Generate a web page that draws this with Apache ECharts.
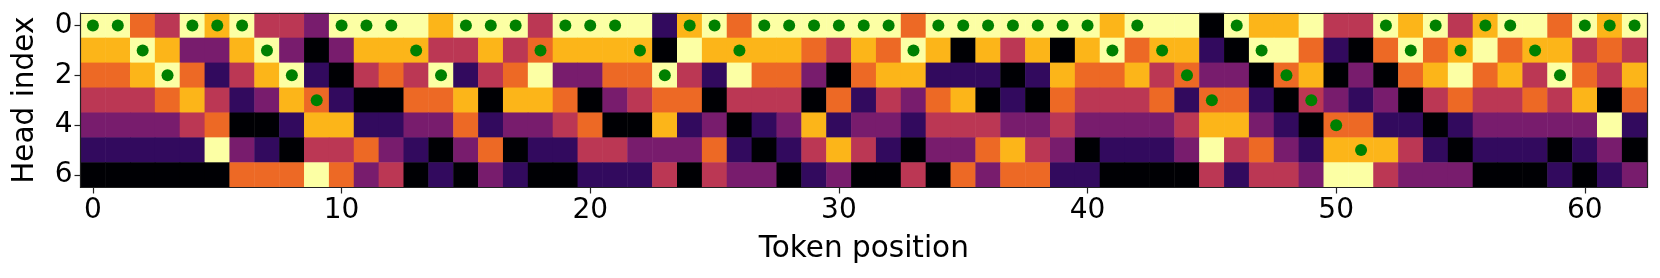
<!DOCTYPE html>
<html>
<head>
<meta charset="utf-8">
<style>html,body{margin:0;padding:0;background:#fff}#c{width:1660px;height:278px}</style>
<script src="https://cdn.jsdelivr.net/npm/echarts@6/dist/echarts.min.js"></script>
</head>
<body>
<div id="c"></div>
<script>
const head0 = [6,6,4,3,6,5,6,3,3,2,6,6,6,6,5,6,6,6,3,6,6,6,6,1,5,6,4,6,6,6,6,6,6,4,6,6,6,6,6,6,6,5,6,6,6,0,6,5,5,6,3,3,6,5,6,3,5,6,6,4,6,5,6];
const head1 = [5,5,6,5,2,2,5,6,2,0,2,5,5,5,3,3,5,3,4,5,5,5,5,0,6,5,5,5,5,4,3,5,4,6,5,0,5,3,5,0,5,6,4,5,5,1,0,6,6,4,1,0,4,6,4,5,6,4,5,5,3,4,3];
const head2 = [4,4,5,6,4,1,3,5,6,1,0,3,4,3,6,1,3,4,6,2,2,4,4,6,3,1,6,4,4,2,0,4,5,5,1,1,1,0,1,5,4,4,5,3,4,2,2,0,4,5,0,2,0,4,5,6,4,5,3,6,4,3,5];
const head3 = [3,3,3,4,5,3,1,2,5,4,1,0,0,4,4,5,0,5,5,4,0,2,3,4,4,0,3,3,3,0,4,1,3,2,4,5,0,1,0,4,3,3,3,4,1,4,4,1,0,3,2,1,2,0,3,4,3,3,4,3,5,0,4];
const head4 = [2,2,2,2,3,4,0,0,1,5,5,1,1,2,2,4,1,2,2,3,4,0,0,5,1,2,0,1,2,5,1,2,2,1,3,3,3,2,2,3,2,2,2,2,3,5,5,2,1,0,4,4,1,1,0,1,2,2,2,2,2,6,1];
const head5 = [1,1,1,1,1,6,2,1,0,3,3,4,2,1,0,2,4,0,1,1,3,3,2,2,2,4,1,0,1,3,5,3,1,0,2,2,4,5,3,2,0,1,1,1,2,6,3,4,2,1,5,5,5,3,1,0,1,1,1,0,1,2,0];
const head6 = [0,0,0,0,0,0,4,4,4,6,4,2,3,0,1,0,2,1,0,0,1,1,1,3,0,3,2,2,0,1,2,0,0,3,0,4,2,4,4,1,1,0,0,0,0,3,1,3,3,2,6,6,3,2,2,2,0,0,0,1,0,1,2];
const selectedHead = [0,0,1,2,0,0,0,1,2,3,0,0,0,1,2,0,0,0,1,0,0,0,1,2,0,0,1,0,0,0,0,0,0,1,0,0,0,0,0,0,0,1,0,1,2,3,0,1,2,3,4,5,0,1,0,1,0,0,1,2,0,0,0];
const tokenPositions = head0.map((_, i) => String(i));
const headIndices = ['0','1','2','3','4','5','6'];
const infernoSteps = ['#000004','#320a5e','#781c6d','#bb3754','#ed6925','#fcb519','#fcffa4'];

const heads = [head0, head1, head2, head3, head4, head5, head6];
const cells = [];
heads.forEach((row, r) => row.forEach((v, c) => cells.push([c, r, v])));
const dots = selectedHead.map((r, c) => [c, r]);

const fontFamily = '"DejaVu Sans"';
const chart = echarts.init(document.getElementById('c'), null, {renderer: 'canvas'});
const frame = {show: true, onZero: false, lineStyle: {color: '#222', width: 1.2}};
chart.setOption({
  animation: false,
  backgroundColor: '#fff',
  grid: {left: 80.5, top: 13, width: 1566.5, height: 174.5},
  xAxis: [{
    type: 'category', data: tokenPositions, position: 'bottom', z: 5,
    axisLine: frame,
    axisTick: {show: true, alignWithLabel: true, length: 6, interval: i => i % 10 === 0, lineStyle: {color: '#222', width: 1.2}},
    axisLabel: {interval: i => i % 10 === 0, fontSize: 28, color: '#000', fontFamily, margin: 9.5},
    splitLine: {show: false},
    name: 'Token position', nameLocation: 'middle', nameGap: 47,
    nameTextStyle: {fontSize: 29.5, color: '#000', fontFamily}
  }, {
    type: 'category', data: tokenPositions, position: 'top', z: 5,
    axisLine: frame, axisTick: {show: false}, axisLabel: {show: false}, splitLine: {show: false}
  }],
  yAxis: [{
    type: 'category', data: headIndices, inverse: true, position: 'left', z: 5,
    axisLine: frame,
    axisTick: {show: true, alignWithLabel: true, length: 6, interval: i => i % 2 === 0, lineStyle: {color: '#222', width: 1.2}},
    axisLabel: {interval: i => i % 2 === 0, fontSize: 28, color: '#000', fontFamily, margin: 8},
    splitLine: {show: false},
    name: 'Head index', nameLocation: 'middle', nameGap: 40,
    nameTextStyle: {fontSize: 29.5, color: '#000', fontFamily}
  }, {
    type: 'category', data: headIndices, inverse: true, position: 'right', z: 5,
    axisLine: frame, axisTick: {show: false}, axisLabel: {show: false}, splitLine: {show: false}
  }],
  visualMap: {
    show: false, type: 'continuous', min: 0, max: 6, seriesIndex: 0, dimension: 2,
    inRange: {color: infernoSteps}
  },
  series: [{
    type: 'heatmap', data: cells, xAxisIndex: 0, yAxisIndex: 0,
    emphasis: {disabled: true}, progressive: 0
  }, {
    type: 'scatter', data: dots, xAxisIndex: 0, yAxisIndex: 0, z: 4,
    symbol: 'circle', symbolSize: 12, itemStyle: {color: '#008000', opacity: 1}, silent: true
  }]
});
</script>
</body>
</html>
